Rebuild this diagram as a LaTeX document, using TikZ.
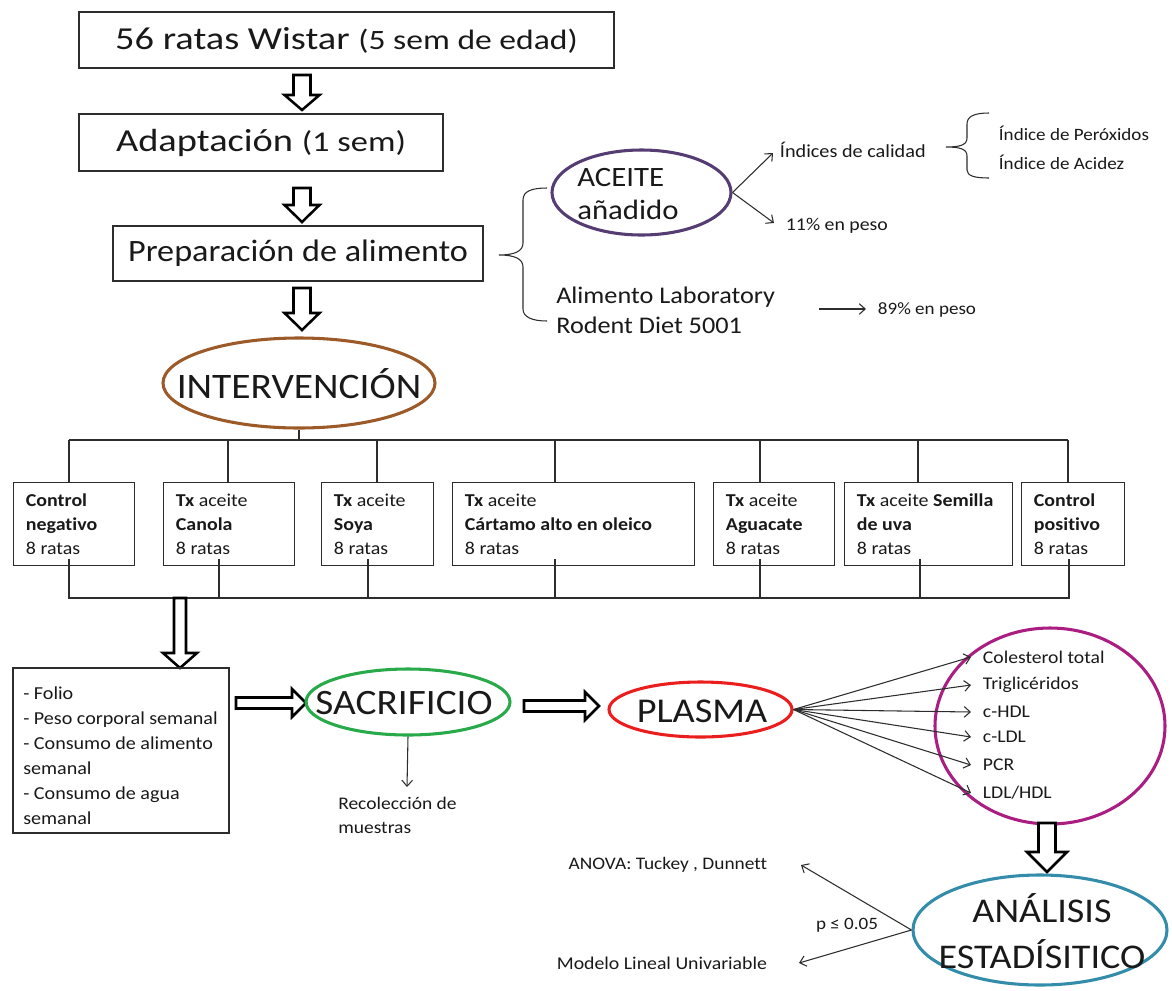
\documentclass[tikz,border=0pt]{standalone}
\usepackage{fontspec}
\setmainfont{Carlito}[FakeStretch=1.1,Ligatures={NoCommon}]
\newfontfamily\widefont{Carlito}[FakeStretch=1.2,Ligatures={NoCommon}]
\usetikzlibrary{shapes.geometric,arrows.meta,calc}
\definecolor{txt}{RGB}{25,25,25}
\definecolor{ln}{RGB}{45,45,45}
\definecolor{cint}{RGB}{155,90,40}
\definecolor{cace}{RGB}{85,60,115}
\definecolor{csac}{RGB}{40,170,75}
\definecolor{cpla}{RGB}{235,30,30}
\definecolor{cmag}{RGB}{170,30,130}
\definecolor{cana}{RGB}{50,140,170}
\newcommand\fz[2]{\fontsize{#1pt}{#2pt}\selectfont}
\newcommand\hdn[5]{\draw[hollow] (#1) ++(-#2,0) -- ++(2*#2,0) -- ++(0,#3) -- ++(#4-#2,0) -- ++(-#4,#5) -- ++(-#4,-#5) -- ++(#4-#2,0) -- cycle;}
\newcommand\hrt[5]{\draw[hollow] (#1) ++(0,-#2) -- ++(#3,0) -- ++(0,#2-#4) -- ++(#5,#4) -- ++(-#5,#4) -- ++(0,#2-#4) -- ++(-#3,0) -- cycle;}
\begin{document}
\begin{tikzpicture}[x=0.75pt,y=-0.75pt,
  every node/.style={text=txt},
  box/.style={draw=ln,line width=0.9pt,inner sep=0pt},
  ell/.style={ellipse,draw,line width=2.3pt,inner sep=0pt},
  thin/.style={draw=ln,line width=0.8pt},
  arr/.style={thin,-{Straight Barb[length=4.5pt,width=8pt]}},
  hollow/.style={draw=black,line width=1.9pt,fill=white,line join=miter},
  lbl/.style={font=\fz{13}{16},inner sep=2pt},
  gt/.style={align=left,font=\fz{13.6}{18},inner sep=2pt},
  gbox/.style={box,anchor=north west,minimum height=62.25pt}
]
\useasboundingbox (0,0) rectangle (1172,990);

% ---- top chain
\node[box,minimum width=401.25pt,minimum height=42pt,font=\widefont\fz{24}{28}] (b1) at (346.5,40) {56 ratas Wistar {\fz{21}{24}(5 sem de edad)}};
\node[box,minimum width=273pt,minimum height=42.75pt,font=\widefont\fz{24}{28}] (b2) at (261,142.5) {Adaptación {\fz{21.5}{24}(1 sem)}};
\node[box,minimum width=277.5pt,minimum height=41.25pt,font=\fz{23.3}{27}] (b3) at (298,253.5) {Preparación de alimento};
\node[ell,draw=cint,minimum width=204pt,minimum height=67.5pt] (int) at (299,383) {};
\node[inner sep=0pt,font=\fz{26.9}{30}] (intt) at (299,384) {INTERVENCIÓN};

\coordinate (h1) at (302,75);
\coordinate (h2) at (302,188);
\coordinate (h3) at (302,288);
\hdn{h1}{8.5}{20}{17.5}{15}
\hdn{h2}{8.5}{17}{17.5}{17}
\hdn{h3}{8.5}{25}{17.5}{17}

% ---- brace and oil
\draw[thin] (547,188) .. controls (532,188) and (523,191) .. (523,200) -- (523,243)
  .. controls (523,251) and (515,255) .. (499,255)
  .. controls (515,255) and (523,259) .. (523,267) -- (523,309)
  .. controls (523,317) and (532,321) .. (547,321);
\node[ell,draw=cace,minimum width=134.25pt,minimum height=63.75pt] (ace) at (641.5,192.5) {};
\node[align=left,anchor=west,inner sep=0pt,font=\fz{21}{25}] (acet) at (577,194) {ACEITE\\añadido};
\node[lbl,anchor=west,font=\fz{13.8}{16}] (ic) at (777,150) {Índices de calidad};
\node[lbl,anchor=west,font=\fz{13.5}{16}] (p11) at (783,226) {11\% en peso};
\draw[arr] (ace.east) -- ($(ic.west)+(-4,3)$);
\draw[arr] (ace.east) -- ($(p11.west)+(-9,-3)$);
\draw[thin] (989,113) .. controls (975,113) and (967,116) .. (967,124) -- (967,138)
  .. controls (967,145) and (960,147) .. (946,147)
  .. controls (960,147) and (967,149) .. (967,156) -- (967,170)
  .. controls (967,176) and (975,178) .. (989,178);
\node[lbl,anchor=west,align=left,font=\fz{13}{21.75}] (idx) at (996,147.5) {Índice de Peróxidos\\Índice de Acidez};
\node[align=left,anchor=west,inner sep=0pt,font=\fz{17.9}{22.5}] (ali) at (556,310) {Alimento Laboratory\\Rodent Diet 5001};
\node[lbl,anchor=west] (p89) at (875,310) {89\% en peso};
\coordinate (a89) at (819,309);
\draw[arr] (a89) -- ($(p89.west)+(-9,-1)$);

% ---- groups
\node[gbox,minimum width=90.75pt] (gA) at (13,482) {};
\node[gbox,minimum width=98.25pt] (gB) at (163,482) {};
\node[gbox,minimum width=84pt] (gC) at (321,482) {};
\node[gbox,minimum width=181.5pt] (gD) at (452,482) {};
\node[gbox,minimum width=90.75pt] (gE) at (713,482) {};
\node[gbox,minimum width=126pt] (gF) at (844,482) {};
\node[gbox,minimum width=77.25pt] (gG) at (1021,482) {};
\node[gt,anchor=west] (tA) at ($(gA.west)+(10,0)$) {\textbf{Control}\\\textbf{negativo}\\8 ratas};
\node[gt,anchor=west] (tB) at ($(gB.west)+(10,0)$) {\textbf{Tx} aceite\\\textbf{Canola}\\8 ratas};
\node[gt,anchor=west] (tC) at ($(gC.west)+(10,0)$) {\textbf{Tx} aceite\\\textbf{Soya}\\8 ratas};
\node[gt,anchor=west] (tD) at ($(gD.west)+(10,0)$) {\textbf{Tx} aceite\\\textbf{Cártamo alto en oleico}\\8 ratas};
\node[gt,anchor=west] (tE) at ($(gE.west)+(10,0)$) {\textbf{Tx} aceite\\\textbf{Aguacate}\\8 ratas};
\node[gt,anchor=west] (tF) at ($(gF.west)+(10,0)$) {\textbf{Tx} aceite \textbf{Semilla}\\\textbf{de uva}\\8 ratas};
\node[gt,anchor=west] (tG) at ($(gG.west)+(10,0)$) {\textbf{Control}\\\textbf{positivo}\\8 ratas};

\coordinate (bus1l) at (69,440);
\coordinate (bus1r) at (1068,440);
\coordinate (bus2l) at (69,598);
\coordinate (bus2r) at (1069,598);
\draw[thin] (int.south) -- (int.south |- bus1l);
\draw[thin] (bus1l) -- (bus1r);
\draw[thin] (bus2l) -- (bus2r);
\foreach \n/\a/\b in {gA/56/56, gB/65/56, gC/56/47, gD/103/103, gE/47/47, gF/74/76, gG/47/48}{
  \draw[thin] ($(\n.north west)+(\a,0)$) -- ++(0,-42);
  \draw[thin] ($(\n.south west)+(\b,-7)$) -- ++(0,40);
}

% ---- bottom chain
\coordinate (h4) at (180,598);
\hdn{h4}{6}{55}{17}{15}
\node[box,anchor=north west,minimum width=162pt,minimum height=123.75pt,line width=1.2pt] (lst) at (12,667) {};
\node[align=left,anchor=west,inner sep=0pt,font=\fz{13.7}{18.75}] (lstt) at (23,756) {- Folio\\- Peso corporal semanal\\- Consumo de alimento\\semanal\\- Consumo de agua\\semanal};
\coordinate (h5) at (236,703);
\hrt{h5}{5.5}{56}{14}{14}
\node[ell,draw=csac,minimum width=153pt,minimum height=49.5pt] (sac) at (408,702) {};
\node[inner sep=0pt,font=\fz{26.8}{30}] (sact) at (404,703) {SACRIFICIO};
\node[align=left,anchor=north west,inner sep=0pt,font=\fz{13.3}{18}] (rec) at (338,797) {Recolección de\\muestras};
\coordinate (recA) at (407,787);
\draw[arr] (sac.south) -- (recA);
\coordinate (h6) at (524,706);
\hrt{h6}{5.5}{61}{14}{14}
\node[ell,draw=cpla,minimum width=137.25pt,minimum height=41.25pt] (pla) at (700.5,709.5) {};
\node[inner sep=0pt,font=\fz{26.1}{30}] (plat) at (702,711) {PLASMA};

\node[ell,draw=cmag,minimum width=172.5pt,minimum height=147pt] (circ) at (1050,726) {};
\foreach \i/\y/\t in {1/657/{Colesterol total}, 2/685/{Triglicéridos}, 3/712/{c-HDL}, 4/737/{c-LDL}, 5/765/{PCR}, 6/793/{LDL/HDL}}{
  \node[lbl,anchor=west,font=\fz{13.4}{16}] (c\i) at (980,\y) {\t};
  \draw[arr] (pla.east) -- ($(c\i.west)+(-9,0)$);
}
\coordinate (h7) at (1047,823);
\hdn{h7}{8.5}{29}{20}{20}
\node[ell,draw=cana,minimum width=190.5pt,minimum height=82.5pt] (ana) at (1040,930) {};
\node[align=center,inner sep=0pt,font=\fz{26}{34.5}] (anat) at (1042,931) {ANÁLISIS\\ESTADÍSITICO};
\node[lbl,anchor=east,font=\fz{13.2}{16}] (anova) at (770,865) {ANOVA: Tuckey , Dunnett};
\node[lbl,anchor=east,font=\fz{13.5}{16}] (mod) at (770,963) {Modelo Lineal Univariable};
\node[lbl,anchor=center] (pv) at (847,925) {p ≤ 0.05};
\draw[arr] (ana.west) -- ($(anova.east)+(31,0)$);
\draw[arr] (ana.west) -- ($(mod.east)+(29,0)$);
\end{tikzpicture}
\end{document}
